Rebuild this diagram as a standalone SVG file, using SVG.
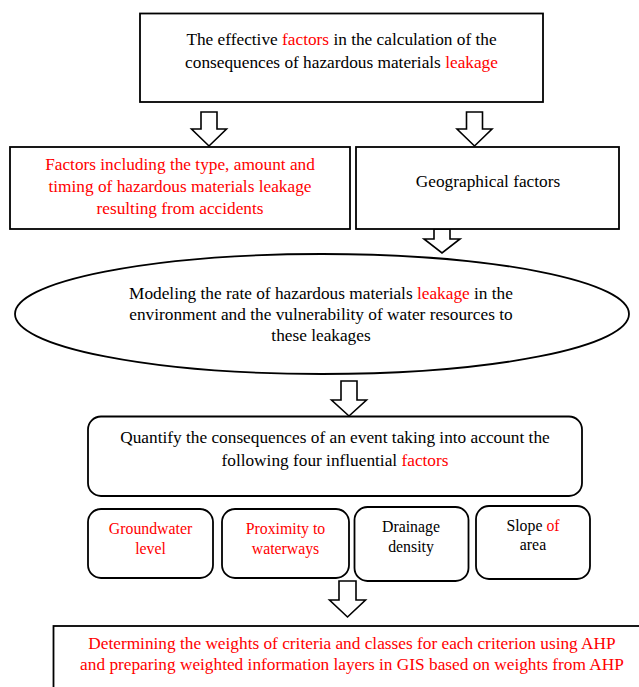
<svg xmlns="http://www.w3.org/2000/svg" width="639" height="687" viewBox="0 0 639 687">
<style>
.box{fill:#fff;stroke:#000;stroke-width:1.8}
.arr{fill:#fff;stroke:#000;stroke-width:1.6;stroke-linejoin:miter}
text{fill:#000;text-anchor:middle}
.m{font-size:17.3px}
.s{font-size:15.8px}
.r{fill:#ff0000}
</style>
<rect width="639" height="687" fill="#fff"/>
<g id="connectors">
<polygon class="arr" points="201,112 217,112 217,129 226.5,129 209,146 191.5,129 201,129"/>
<polygon class="arr" points="466.5,112 482.5,112 482.5,129 492,129 474.5,146 457,129 466.5,129"/>
<polygon class="arr" points="434,229 450,229 450,239 460,239 442,253 424,239 434,239"/>
<polygon class="arr" points="341,381 357,381 357,400 366.5,400 349,416 331.5,400 341,400"/>
<polygon class="arr" points="339,581 356,581 356,600 365.5,600 347.5,617 329.5,600 339,600"/>
</g>
<g font-family="Liberation Serif, DejaVu Serif, serif">
<g id="top">
<rect class="box" x="140" y="13.5" width="403" height="88.5"/>
<text class="m" x="341.5" y="45">The effective <tspan class="r">factors</tspan> in the calculation of the</text>
<text class="m" x="341.5" y="68">consequences of hazardous materials <tspan class="r">leakage</tspan></text>
</g>
<g id="left">
<rect class="box" x="10" y="147" width="340" height="82"/>
<text class="m r" x="180" y="170">Factors including the type, amount and</text>
<text class="m r" x="180" y="192">timing of hazardous materials leakage</text>
<text class="m r" x="180" y="214">resulting from accidents</text>
</g>
<g id="right">
<rect class="box" x="356" y="147" width="263" height="82"/>
<text class="m" x="488" y="187">Geographical factors</text>
</g>
<g id="ellipse">
<ellipse class="box" cx="322" cy="314" rx="307" ry="60"/>
<text class="m" x="321" y="299">Modeling the rate of hazardous materials <tspan class="r">leakage</tspan> in the</text>
<text class="m" x="321" y="320">environment and the vulnerability of water resources to</text>
<text class="m" x="321" y="341">these leakages</text>
</g>
<g id="quantify">
<rect class="box" x="88" y="416.5" width="494" height="79.5" rx="13"/>
<text class="m" x="335" y="443">Quantify the consequences of an event taking into account the</text>
<text class="m" x="335" y="466">following four influential <tspan class="r">factors</tspan></text>
</g>
<g id="groundwater">
<rect class="box" x="88" y="509" width="125" height="69" rx="13"/>
<text class="s r" x="150.5" y="534">Groundwater</text>
<text class="s r" x="150.5" y="554">level</text>
</g>
<g id="proximity">
<rect class="box" x="222" y="509" width="127" height="69" rx="13"/>
<text class="s r" x="285.5" y="534">Proximity to</text>
<text class="s r" x="285.5" y="554">waterways</text>
</g>
<g id="drainage">
<rect class="box" x="354.5" y="507" width="114" height="74" rx="13"/>
<text class="s" x="411" y="532">Drainage</text>
<text class="s" x="411" y="552">density</text>
</g>
<g id="slope">
<rect class="box" x="476" y="506" width="114" height="73" rx="13"/>
<text class="s" x="533" y="531">Slope <tspan class="r">of</tspan></text>
<text class="s" x="533" y="550">area</text>
</g>
<g id="bottom">
<rect class="box" x="53.5" y="626" width="620" height="80"/>
<text class="m r" x="352" y="649">Determining the weights of criteria and classes for each criterion using AHP</text>
<text class="m r" x="352" y="670">and preparing weighted information layers in GIS based on weights from AHP</text>
</g>
</g>
</svg>
